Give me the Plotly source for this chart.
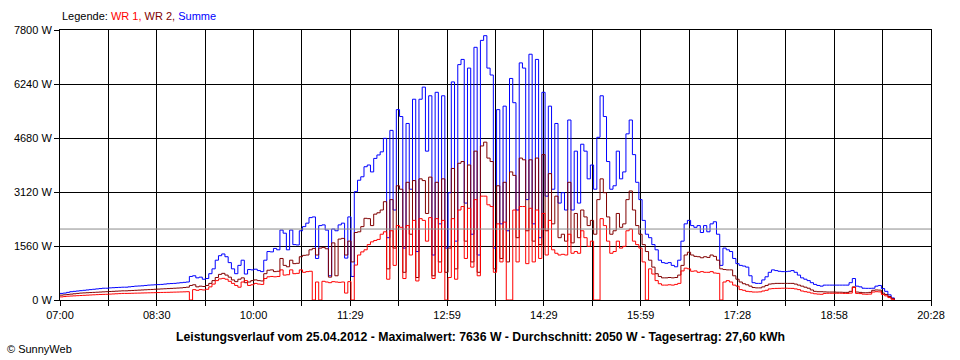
import pandas as pd
import plotly.graph_objects as go

# ---- data (W), 3-minute samples starting 07:00 ----
DAY = "2012-04-25"
START = "07:00"
STEP_MIN = 3

SUMME_W = (
    [190, 200, 220, 240, 250, 260, 270, 280, 290, 300, 310, 320, 330, 340, 340, 350, 355, 360, 365, 370] +
    [370, 380, 390, 400, 405, 410, 420, 430, 435, 440, 445, 450, 460, 470, 475, 480, 490, 500, 510, 520] +
    [680, 700, 640, 660, 600, 620, 760, 900, 1150, 1280, 1330, 1250, 1080, 900, 760, 1000, 1150, 750, 880, 870] +
    [890, 850, 820, 1150, 1400, 1390, 1490, 1450, 2020, 1930, 1450, 2020, 1600, 1590, 2000, 2120, 2220, 2380, 2400, 1200] +
    [2150, 2170, 2020, 700, 2050, 2000, 2170, 2220, 1210, 2400, 680, 3130, 3460, 3560, 3850, 3900, 3700, 4090, 4190, 4280] +
    [4670, 1800, 4900, 2600, 5500, 5300, 1500, 5100, 3200, 5800, 1400, 5800, 6150, 4300, 5900, 1300, 6000, 2200, 5900, 1500] +
    [3100, 6300, 1700, 6800, 6950, 2800, 6700, 1900, 7300, 1300, 7500, 7636, 6700, 6500, 1500, 5500, 2200, 5600, 2000, 6400] +
    [5700, 2600, 6850, 6700, 2900, 7100, 2200, 6950, 1800, 6000, 3000, 5600, 3200, 5100, 2800, 3100, 2600, 5200, 2600, 4300] +
    [2800, 4500, 4300, 3500, 3900, 3200, 4700, 5900, 5300, 4000, 3200, 3300, 4300, 3500, 3700, 4800, 5200, 4200, 3400, 2900] +
    [2300, 1900, 1800, 1600, 1450, 1150, 1080, 1060, 1080, 1000, 960, 1150, 1700, 2200, 2300, 2150, 2100, 2150, 1950, 2150] +
    [1970, 2200, 2260, 1900, 1000, 1500, 1450, 1400, 1200, 1050, 1000, 980, 950, 700, 500, 480, 480, 580, 670, 800] +
    [870, 850, 830, 820, 820, 830, 850, 800, 720, 640, 600, 560, 500, 450, 420, 400, 430, 430, 430, 430] +
    [430, 430, 430, 430, 500, 620, 400, 380, 340, 337, 337, 340, 400, 420, 330, 250, 150, 60, 0]
)

WR2_W = (
    [140, 150, 160, 170, 180, 190, 200, 205, 210, 215, 220, 225, 230, 235, 240, 245, 250, 255, 260, 265] +
    [265, 270, 275, 280, 285, 290, 295, 300, 305, 310, 315, 320, 325, 330, 335, 340, 345, 350, 360, 370] +
    [420, 440, 380, 400, 390, 420, 480, 560, 650, 740, 770, 720, 660, 580, 530, 600, 640, 500, 520, 560] +
    [580, 560, 550, 760, 860, 870, 820, 830, 1200, 1000, 960, 1150, 1050, 1060, 1250, 1290, 1300, 1450, 1490, 1300] +
    [1500, 1520, 1480, 660, 1650, 700, 1760, 1780, 1300, 1700, 1100, 1950, 1970, 2120, 2360, 2350, 2150, 2480, 2520, 2600] +
    [2840, 900, 2900, 1500, 3300, 3200, 800, 3400, 1900, 3450, 650, 3500, 3450, 2500, 3550, 700, 3400, 1100, 3500, 800] +
    [1500, 3800, 900, 3950, 4000, 1700, 3900, 1100, 4300, 800, 4450, 4560, 4100, 4000, 900, 3300, 1200, 3400, 1100, 3700] +
    [3600, 1800, 4100, 4050, 2000, 4050, 1700, 4100, 1600, 4200, 2000, 3650, 2200, 3000, 1800, 1900, 1700, 3400, 1650, 2500] +
    [1800, 2600, 2400, 2150, 2300, 1900, 2900, 3500, 3100, 2400, 1900, 2000, 2500, 2100, 2200, 2900, 3150, 2600, 2150, 1900] +
    [1600, 1400, 1150, 950, 760, 680, 640, 640, 650, 640, 650, 720, 1000, 1300, 1380, 1300, 1260, 1250, 1220, 1250] +
    [1230, 1300, 1260, 1150, 900, 880, 870, 870, 700, 600, 520, 470, 440, 400, 360, 350, 350, 380, 420, 460] +
    [470, 480, 480, 480, 480, 480, 480, 460, 430, 400, 370, 340, 290, 250, 240, 240, 235, 230, 230, 230] +
    [225, 225, 220, 220, 250, 380, 230, 220, 210, 210, 220, 280, 290, 285, 200, 160, 100, 40, 0]
)

WR1_W = (
    [90, 100, 110, 115, 120, 125, 130, 135, 140, 145, 150, 155, 160, 162, 165, 170, 175, 180, 185, 190] +
    [190, 192, 195, 198, 200, 203, 205, 208, 210, 212, 215, 218, 220, 222, 225, 228, 230, 233, 236, 240] +
    [0, 300, 280, 300, 290, 310, 380, 460, 560, 610, 625, 600, 540, 480, 420, 370, 520, 560, 420, 440] +
    [480, 460, 450, 620, 670, 680, 670, 680, 870, 720, 730, 870, 760, 770, 870, 800, 820, 830, 0, 520] +
    [0, 540, 520, 500, 530, 520, 510, 520, 200, 530, 0, 1010, 1300, 1390, 1450, 1600, 1680, 1720, 1750, 1900] +
    [1970, 600, 2000, 1000, 2150, 2100, 620, 2150, 1300, 2300, 550, 2350, 2300, 1700, 2380, 620, 2350, 800, 2300, 0] +
    [650, 2350, 600, 2600, 2700, 1200, 2650, 950, 2900, 700, 3000, 3000, 2750, 2700, 800, 2200, 1100, 2250, 0, 0] +
    [2600, 1100, 2700, 2700, 1050, 2650, 1100, 2600, 1200, 2500, 1300, 2300, 1450, 1350, 1300, 1320, 1300, 1900, 1350, 1400] +
    [1350, 2000, 1800, 1550, 1700, 0, 0, 2350, 2150, 1700, 1350, 1400, 1700, 1500, 1550, 2000, 2050, 1700, 1600, 1500] +
    [1100, 0, 900, 750, 560, 470, 430, 430, 440, 430, 450, 480, 840, 920, 900, 830, 840, 800, 820, 800] +
    [800, 820, 780, 770, 0, 520, 560, 520, 430, 400, 300, 280, 250, 240, 230, 230, 235, 260, 280, 320] +
    [330, 335, 337, 340, 340, 337, 335, 320, 300, 260, 240, 225, 200, 180, 170, 165, 190, 195, 195, 195] +
    [195, 195, 190, 190, 200, 360, 190, 185, 170, 165, 170, 230, 240, 235, 160, 120, 70, 20, 0]
)

AVERAGE_W = 2050
Y_TICKS = [0, 1560, 3120, 4680, 6240, 7800]
X_LABELS = ["07:00", "08:30", "10:00", "11:29", "12:59", "14:29", "15:59", "17:28", "18:58", "20:28"]
AXIS_START = "07:00"
AXIS_END = "20:28"

TITLE = ("Leistungsverlauf vom 25.04.2012 - Maximalwert: 7636 W - Durchschnitt: 2050 W"
         " - Tagesertrag: 27,60 kWh")

assert len(SUMME_W) == len(WR2_W) == len(WR1_W), (len(SUMME_W), len(WR2_W), len(WR1_W))

times = pd.date_range(f"{DAY} {START}", periods=len(SUMME_W), freq=f"{STEP_MIN}min")
t0 = pd.Timestamp(f"{DAY} {AXIS_START}")
t1 = pd.Timestamp(f"{DAY} {AXIS_END}")
span = t1 - t0
n_div = 2 * (len(X_LABELS) - 1)
tickvals = [t0 + span * k / n_div for k in range(n_div + 1)]
ticktext = [X_LABELS[k // 2] if k % 2 == 0 else "" for k in range(n_div + 1)]

FONT = "Liberation Sans, Arial, sans-serif"

fig = go.Figure()
for name, vals, col in [("Summe", SUMME_W, "#0000FF"),
                        ("WR 2", WR2_W, "#800000"),
                        ("WR 1", WR1_W, "#FF0000")]:
    fig.add_trace(go.Scatter(x=times, y=vals, name=name, mode="lines",
                             line=dict(color=col, width=1, shape="hv")))

fig.add_shape(type="line", xref="paper", x0=0, x1=1, yref="y", y0=AVERAGE_W, y1=AVERAGE_W,
              line=dict(color="#8C8C8C", width=1), layer="above")

fig.update_layout(
    width=960, height=360,
    margin=dict(l=60, r=29, t=30, b=60, pad=0),
    paper_bgcolor="white", plot_bgcolor="white",
    showlegend=False,
    font=dict(family=FONT, size=11, color="black"),
    xaxis=dict(type="date", range=[t0, t1], tickmode="array",
               tickvals=tickvals, ticktext=ticktext,
               showgrid=True, gridcolor="black", gridwidth=1,
               showline=True, linecolor="black", linewidth=1, mirror=True,
               ticks="outside", ticklen=5, tickcolor="black", zeroline=False,
               tickfont=dict(family=FONT, size=11, color="black")),
    yaxis=dict(range=[0, 7800], tickmode="array", tickvals=Y_TICKS,
               ticktext=[f"{v} W" for v in Y_TICKS],
               showgrid=True, gridcolor="black", gridwidth=1,
               showline=True, linecolor="black", linewidth=1, mirror=True,
               ticks="outside", ticklen=5, tickcolor="black", zeroline=False,
               tickfont=dict(family=FONT, size=11, color="black")),
    annotations=[
        dict(xref="paper", yref="paper", x=0, y=(300 - 16) / 270, xanchor="left", yanchor="middle",
             showarrow=False, font=dict(family=FONT, size=11, color="black"),
             text="Legende: <span style='color:#FF0000'>WR 1,</span> "
                  "<span style='color:#800000'>WR 2,</span> "
                  "<span style='color:#0000FF'>Summe</span>"),
        dict(xref="paper", yref="paper", x=(480 - 60) / 871, y=(300 - 337) / 270,
             xanchor="center", yanchor="middle", showarrow=False,
             font=dict(family=FONT, size=12.25, color="black"), text=f"<b>{TITLE}</b>"),
        dict(xref="paper", yref="paper", x=(5 - 60) / 871, y=(300 - 349) / 270,
             xanchor="left", yanchor="middle", showarrow=False,
             font=dict(family=FONT, size=11, color="black"), text="© SunnyWeb"),
    ],
)

fig.write_html("out.html", config={"displayModeBar": False},
               post_script="document.body.style.margin='0';")
